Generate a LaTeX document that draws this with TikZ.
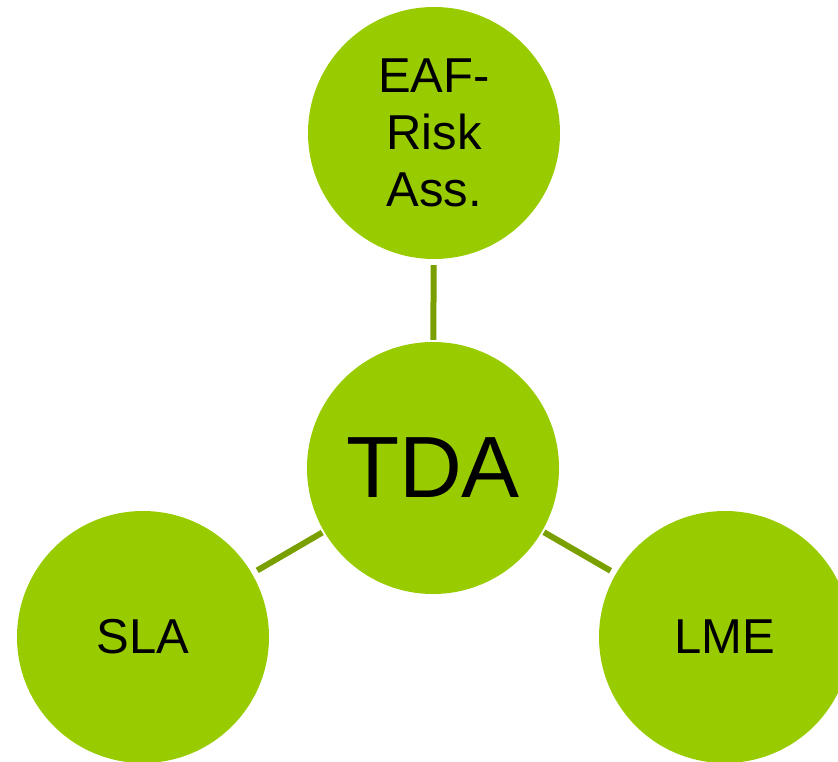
\documentclass[tikz,border=0pt]{standalone}
\usepackage{fontspec}
\setmainfont{Liberation Sans}
\definecolor{bubble}{RGB}{153,204,0}
\definecolor{link}{RGB}{122,160,0}
\begin{document}
\begin{tikzpicture}[x=1pt,y=-1pt,
  bubble/.style={circle,fill=bubble,minimum size=252pt,inner sep=0pt,align=center,
    font=\fontsize{49}{57}\selectfont},
  linkline/.style={draw=link,line width=6pt,shorten <=6pt,shorten >=2pt}]
\useasboundingbox (0,0) rectangle (838,762);
\clip (0,0) rectangle (838,762);
\node[bubble] (top) at (434,133) {EAF-\\Risk\\Ass.};
\node[bubble,font=\fontsize{87}{96}\selectfont] (tda) at (433,468) {TDA};
\node[bubble] (sla) at (143,637) {SLA};
\node[bubble] (lme) at (725,637) {LME};
\draw[linkline] (top) -- (tda);
\draw[linkline] (sla) -- (tda);
\draw[linkline] (lme) -- (tda);
\end{tikzpicture}
\end{document}
